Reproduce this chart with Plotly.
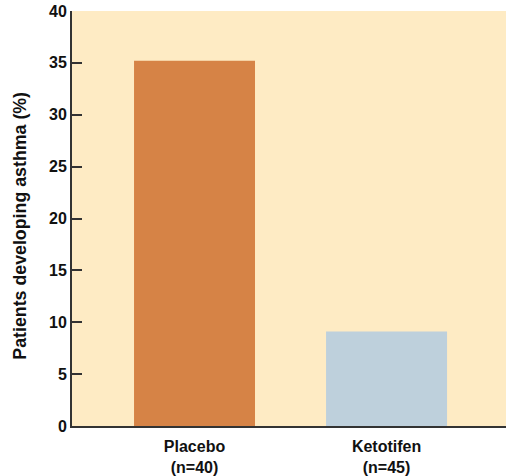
import plotly.graph_objects as go

categories = ["Placebo<br>(n=40)", "Ketotifen<br>(n=45)"]
values = [35.2, 9.1]
colors = ["#D68346", "#BED0DC"]
y_ticks = [0, 5, 10, 15, 20, 25, 30, 35, 40]
y_title = "Patients developing asthma (%)"

fig = go.Figure(go.Bar(
    x=[0, 1], y=values, marker=dict(color=colors, line=dict(width=0)),
    width=0.63,
))
fig.update_layout(
    width=506, height=476,
    margin=dict(l=72, r=0, t=11, b=50),
    paper_bgcolor="white", plot_bgcolor="#FEEBC4",
    font=dict(family="Liberation Sans, Arial, sans-serif", color="#111"),
    showlegend=False,
)
fig.update_xaxes(
    range=[-0.638, 1.622], tickvals=[0, 1],
    ticktext=["<b>" + c.replace("<br>", "</b><br><b>") + "</b>" for c in categories],
    showgrid=False, zeroline=False, showline=True, linecolor="#333", linewidth=2,
    ticks="", ticklabelstandoff=5, tickfont=dict(size=16, color="#111"),
)
fig.update_yaxes(
    range=[0, 40], tickvals=y_ticks, ticktext=["<b>%d</b>" % t for t in y_ticks],
    showgrid=False, zeroline=False,
    showline=True, linecolor="#333", linewidth=2,
    ticks="inside", ticklen=10, tickwidth=2, tickcolor="#333",
    tickfont=dict(size=16, color="#111"),
)
fig.add_annotation(
    text="<b>" + y_title + "</b>", textangle=-90, showarrow=False,
    xref="paper", yref="paper", x=0, y=0.4826, xanchor="center", yanchor="middle",
    xshift=-52, font=dict(size=17.8, color="#111"),
)
fig.write_html("out.html")
